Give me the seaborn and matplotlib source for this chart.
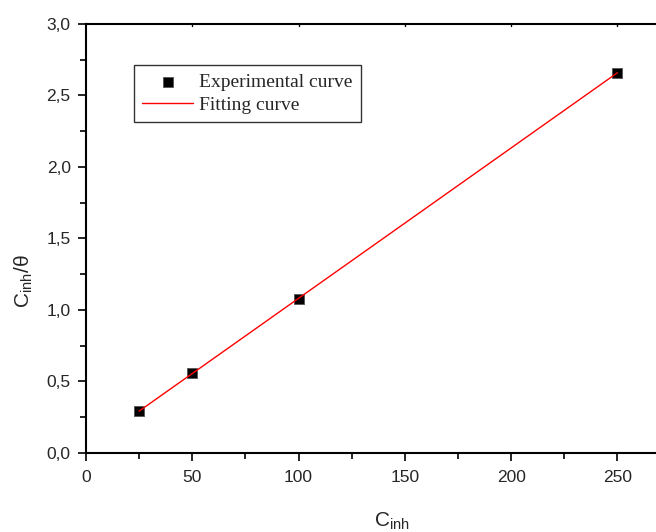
import numpy as np
import pandas as pd
import matplotlib
matplotlib.use("Agg")
import matplotlib.pyplot as plt
import seaborn as sns
from matplotlib.ticker import MultipleLocator, FuncFormatter

c_inh = [25, 50, 100, 250]
c_over_theta = [0.295, 0.556, 1.077, 2.660]

exp_df = pd.DataFrame({"C_inh": c_inh, "ratio": c_over_theta})
slope, intercept = np.polyfit(c_inh, c_over_theta, 1)
fit_df = pd.DataFrame({"C_inh": [c_inh[0], c_inh[-1]]})
fit_df["ratio"] = slope * fit_df["C_inh"] + intercept

sns.set_style("ticks")
plt.rcParams["font.family"] = ["Liberation Sans", "DejaVu Sans"]
plt.rcParams["mathtext.fontset"] = "custom"
plt.rcParams["mathtext.rm"] = "Liberation Sans"
plt.rcParams["mathtext.it"] = "Liberation Sans"

fig = plt.figure(figsize=(6.56, 5.32), dpi=100)
ax = fig.add_axes([0.131, 0.1485, 0.875, 0.8065])

sns.lineplot(data=fit_df, x="C_inh", y="ratio", color="red", linewidth=1,
             ax=ax, label="Fitting curve", zorder=3)
sns.scatterplot(data=exp_df, x="C_inh", y="ratio", marker="s", s=60,
                color="black", edgecolor="#555555", linewidth=0.6,
                ax=ax, label="Experimental curve", zorder=2)

ax.set_xlim(0, 270)
ax.set_ylim(0, 3.0)
ax.xaxis.set_major_locator(MultipleLocator(50))
ax.xaxis.set_minor_locator(MultipleLocator(25))
ax.yaxis.set_major_locator(MultipleLocator(0.5))
ax.yaxis.set_minor_locator(MultipleLocator(0.25))
ax.yaxis.set_major_formatter(FuncFormatter(lambda v, p: f"{v:.1f}".replace(".", ",")))

ax.tick_params(which="major", direction="out", length=6, width=1.2, labelsize=12.5, color="black")
ax.tick_params(which="minor", direction="out", length=4, width=1.2, color="black")
ax.tick_params(axis="y", pad=5)
ax.tick_params(axis="x", pad=6)
ax.tick_params(top=False, right=False)
for v in np.arange(50, 271, 50):
    ax.plot([v, v], [3.0, 2.985], color="black", linewidth=1, clip_on=False)

for side in ["left", "bottom", "top"]:
    ax.spines[side].set_linewidth(1.5)
    ax.spines[side].set_color("black")
ax.spines["right"].set_visible(False)

ax.set_xlabel(r"C$_{\mathrm{inh}}$", fontsize=15)
ax.set_ylabel(r"C$_{\mathrm{inh}}$/θ", fontsize=15)
ax.xaxis.set_label_coords(0.533, -0.135)
ax.yaxis.set_label_coords(-0.089, 0.40)

handles, labels = ax.get_legend_handles_labels()
order = [labels.index("Experimental curve"), labels.index("Fitting curve")]
leg = ax.legend([handles[i] for i in order], [labels[i] for i in order],
                loc="upper left", bbox_to_anchor=(0.083, 0.905),
                prop={"family": "Liberation Serif", "size": 14},
                frameon=True, fancybox=False, edgecolor="black",
                handlelength=2.6, borderpad=0.45, labelspacing=0.25,
                handletextpad=0.3, borderaxespad=0)
leg.get_frame().set_linewidth(1)

fig.savefig("out.png", dpi=100)
